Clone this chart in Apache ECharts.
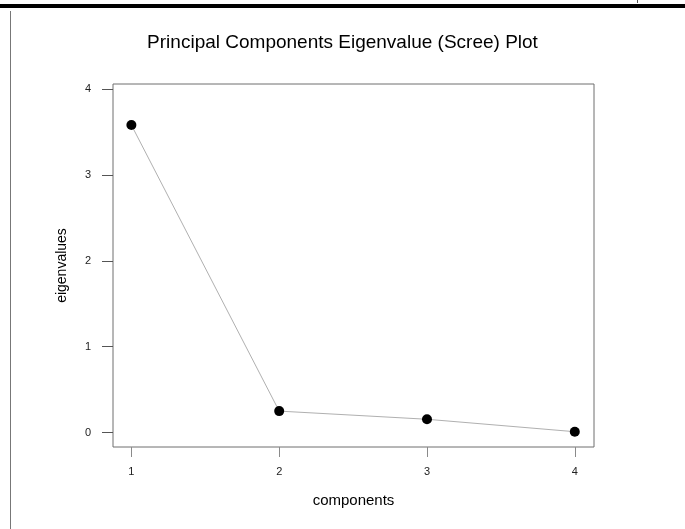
<!DOCTYPE html>
<html>
<head>
<meta charset="utf-8">
<script src="https://cdn.jsdelivr.net/npm/echarts@6/dist/echarts.min.js"></script>
<style>
  html, body { margin: 0; padding: 0; background: #fff; }
  #chart { width: 685px; height: 529px; }
</style>
</head>
<body>
<div id="chart"></div>
<script>
// Scree plot: eigenvalue of each principal component
const components = [1, 2, 3, 4];
const eigenvalues = [3.58, 0.25, 0.155, 0.01];
const yTicks = [0, 1, 2, 3, 4];
const xTicks = [1, 2, 3, 4];

const FONT = '"Liberation Sans", Arial, sans-serif';

const chart = echarts.init(document.getElementById('chart'), null, { renderer: 'canvas' });

chart.setOption({
  backgroundColor: '#ffffff',
  animation: false,
  title: {
    text: 'Principal Components Eigenvalue (Scree) Plot',
    left: 'center',
    top: 28,
    textStyle: { fontFamily: FONT, fontSize: 19, fontWeight: 'normal', color: '#000' }
  },
  grid: {
    left: 113, top: 84, right: 91, bottom: 82,
    show: true, borderColor: '#6e6e6e', borderWidth: 1, backgroundColor: 'transparent'
  },
  xAxis: {
    type: 'value',
    min: 0.8755, max: 4.13,
    name: 'components',
    nameLocation: 'middle',
    nameGap: 46,
    nameTextStyle: { fontFamily: FONT, fontSize: 15, color: '#000' },
    axisLine: { show: false, onZero: false },
    splitLine: { show: false },
    axisTick: { show: true, length: 10, customValues: xTicks, lineStyle: { color: '#8a8a8a' } },
    axisLabel: { customValues: xTicks, margin: 19, fontFamily: FONT, fontSize: 11, color: '#222' }
  },
  yAxis: {
    type: 'value',
    min: -0.168, max: 4.058,
    name: 'eigenvalues',
    nameLocation: 'middle',
    nameGap: 44,
    nameTextStyle: { fontFamily: FONT, fontSize: 14, color: '#000' },
    axisLine: { show: false, onZero: false },
    splitLine: { show: false },
    axisTick: { show: true, length: 11, customValues: yTicks, lineStyle: { color: '#555' } },
    axisLabel: { customValues: yTicks, margin: 22, fontFamily: FONT, fontSize: 11, color: '#222' }
  },
  graphic: [
    // page rule along the top
    { type: 'rect', shape: { x: 0, y: 4, width: 685, height: 4 }, style: { fill: '#000' }, silent: true },
    { type: 'line', shape: { x1: 637.5, y1: 0, x2: 637.5, y2: 3 }, style: { stroke: '#555', lineWidth: 1 }, silent: true },
    // left margin rule
    { type: 'line', shape: { x1: 10.5, y1: 11, x2: 10.5, y2: 529 }, style: { stroke: '#777', lineWidth: 1 }, silent: true }
  ],
  series: [{
    type: 'line',
    data: components.map((c, i) => [c, eigenvalues[i]]),
    symbol: 'circle',
    symbolSize: 10,
    showSymbol: true,
    lineStyle: { color: '#b0b0b0', width: 1 },
    itemStyle: { color: '#000' },
    emphasis: { disabled: true }
  }]
});
</script>
</body>
</html>
